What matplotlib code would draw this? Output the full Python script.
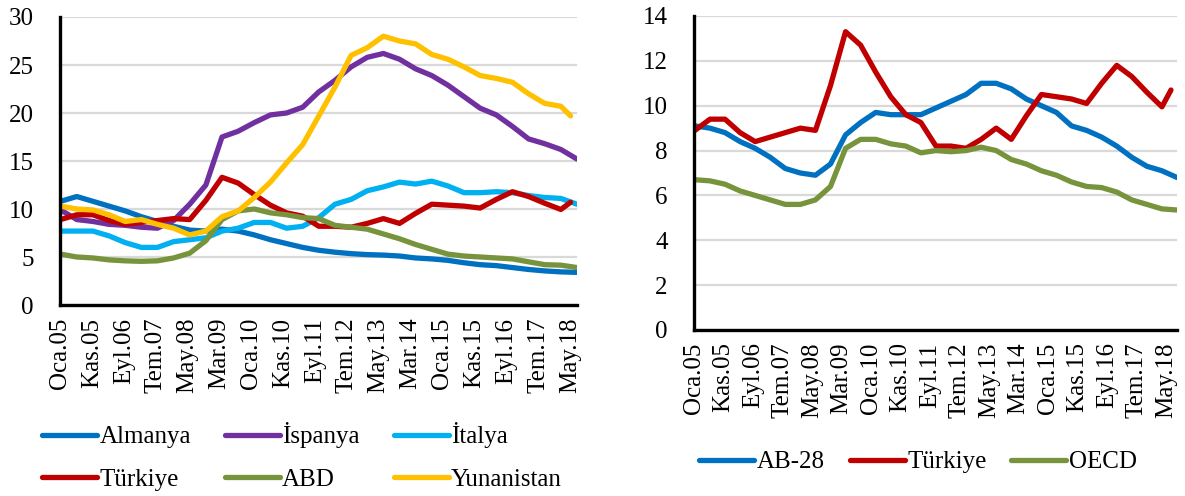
import matplotlib
matplotlib.use('Agg')
import matplotlib.pyplot as plt
import numpy as np

plt.rcParams['font.family'] = ['Liberation Serif', 'DejaVu Serif']

# months counted from Oca.05 (0) to May.18 (160), read every 5 months
months = list(range(0, 161, 5))
months_end158 = list(range(0, 156, 5)) + [158]   # Türkiye / Yunanistan stop at Mar.18

tick_labels = ['Oca.05', 'Kas.05', 'Eyl.06', 'Tem.07', 'May.08', 'Mar.09',
               'Oca.10', 'Kas.10', 'Eyl.11', 'Tem.12', 'May.13', 'Mar.14',
               'Oca.15', 'Kas.15', 'Eyl.16', 'Tem.17', 'May.18']

almanya = [10.8, 11.3, 10.8, 10.3, 9.8, 9.2, 8.7, 8.2, 7.8, 7.7, 7.9, 7.7, 7.3,
           6.8, 6.4, 6.0, 5.7, 5.5, 5.35, 5.25, 5.2, 5.1, 4.9, 4.8, 4.65, 4.4,
           4.2, 4.1, 3.9, 3.7, 3.55, 3.45, 3.4]
ispanya = [9.9, 8.9, 8.7, 8.4, 8.3, 8.1, 8.0, 8.8, 10.5, 12.5, 17.5, 18.1, 19.0,
           19.8, 20.0, 20.6, 22.2, 23.4, 24.8, 25.8, 26.2, 25.6, 24.6, 23.9,
           22.9, 21.7, 20.5, 19.8, 18.6, 17.3, 16.8, 16.2, 15.2]
italya = [7.7, 7.7, 7.7, 7.2, 6.5, 6.0, 6.0, 6.6, 6.8, 7.0, 7.7, 8.0, 8.6, 8.6,
          8.0, 8.2, 9.1, 10.5, 11.0, 11.9, 12.3, 12.8, 12.6, 12.9, 12.4, 11.7,
          11.7, 11.8, 11.7, 11.4, 11.2, 11.1, 10.5]
turkiye = [8.9, 9.4, 9.4, 8.8, 8.4, 8.6, 8.8, 9.0, 8.9, 10.9, 13.3, 12.7, 11.5,
           10.4, 9.6, 9.25, 8.2, 8.2, 8.1, 8.5, 9.0, 8.5, 9.55, 10.5, 10.4,
           10.3, 10.1, 11.0, 11.8, 11.3, 10.6, 9.95, 10.7]
abd = [5.3, 5.0, 4.9, 4.7, 4.6, 4.55, 4.6, 4.9, 5.4, 6.7, 8.9, 9.8, 10.0, 9.6,
       9.4, 9.1, 9.0, 8.3, 8.1, 7.9, 7.4, 6.9, 6.3, 5.8, 5.3, 5.1, 5.0, 4.9,
       4.8, 4.5, 4.2, 4.15, 3.9]
yunanistan = [10.3, 10.0, 9.9, 9.4, 8.7, 8.9, 8.4, 8.0, 7.3, 7.7, 9.2, 9.8,
              11.2, 12.8, 14.8, 16.7, 19.7, 22.7, 26.0, 26.8, 28.0, 27.5, 27.2,
              26.1, 25.6, 24.8, 23.9, 23.6, 23.2, 22.0, 21.0, 20.7, 19.7]

ab28 = [9.1, 9.0, 8.8, 8.4, 8.1, 7.7, 7.2, 7.0, 6.9, 7.4, 8.7, 9.25, 9.7, 9.6,
        9.6, 9.6, 9.9, 10.2, 10.5, 11.0, 11.0, 10.75, 10.3, 10.0, 9.7, 9.1,
        8.9, 8.6, 8.2, 7.7, 7.3, 7.1, 6.8]
oecd = [6.7, 6.65, 6.5, 6.2, 6.0, 5.8, 5.6, 5.6, 5.8, 6.4, 8.1, 8.5, 8.5, 8.3,
        8.2, 7.9, 8.0, 7.95, 8.0, 8.15, 8.0, 7.6, 7.4, 7.1, 6.9, 6.6, 6.4,
        6.35, 6.15, 5.8, 5.6, 5.4, 5.35]

c_blue = '#0070C0'
c_purple = '#7030A0'
c_light = '#00B0F0'
c_red = '#C00000'
c_green = '#77933C'
c_yellow = '#FFC000'

FS = 18
lw = 3.8

fig = plt.figure(figsize=(11.85, 4.96), dpi=100)
ax1 = fig.add_axes([60/1185, 191/496, 517/1185, 288/496])
ax2 = fig.add_axes([694/1185, 166/496, 483/1185, 314/496])


def style(ax, ymax, ystep, lab_first, lab_last):
    ax.set_xlim(0, 160)
    ax.set_ylim(0, ymax)
    ax.set_yticks(range(0, ymax + 1, ystep))
    # category labels sit slightly tighter than the data span (Excel look)
    ax.set_xticks(np.linspace(lab_first, lab_last, len(tick_labels)))
    ax.set_xticklabels(tick_labels, rotation=90, ha='center', va='top')
    ax.tick_params(axis='both', length=0, labelsize=FS)
    ax.tick_params(axis='y', pad=19)
    ax.tick_params(axis='x', pad=9)
    ax.grid(axis='y', color='#D9D9D9', lw=1.6)
    ax.set_axisbelow(True)
    for s in ['top', 'right']:
        ax.spines[s].set_visible(False)
    for s in ['left', 'bottom']:
        ax.spines[s].set_linewidth(2.4)
        ax.spines[s].set_color('black')
        ax.spines[s].set_zorder(5)


kw = dict(lw=lw, solid_capstyle='round', solid_joinstyle='round')

# ---- left panel ----
l_de, = ax1.plot(months, almanya, color=c_blue, label='Almanya', **kw)
l_es, = ax1.plot(months, ispanya, color=c_purple, label='İspanya', **kw)
l_it, = ax1.plot(months, italya, color=c_light, label='İtalya', **kw)
l_tr, = ax1.plot(months_end158, turkiye, color=c_red, label='Türkiye', **kw)
l_us, = ax1.plot(months, abd, color=c_green, label='ABD', **kw)
l_gr, = ax1.plot(months_end158, yunanistan, color=c_yellow, label='Yunanistan', **kw)
style(ax1, 30, 5, -0.2, 157.8)

handles = [l_de, l_tr, l_es, l_us, l_it, l_gr]
fig.legend(handles, [h.get_label() for h in handles], ncol=3, frameon=False,
           loc='center left', bbox_to_anchor=(42/1185, 39.5/496),
           fontsize=FS, handlelength=2.2, handletextpad=0.1,
           columnspacing=1.35, labelspacing=0.8, borderpad=0, borderaxespad=0)

# ---- right panel ----
r_eu, = ax2.plot(months, ab28, color=c_blue, label='AB-28', **kw)
r_tr, = ax2.plot(months_end158, turkiye, color=c_red, label='Türkiye', **kw)
r_oe, = ax2.plot(months, oecd, color=c_green, label='OECD', **kw)
style(ax2, 14, 2, -0.3, 156.4)

fig.legend([r_eu, r_tr, r_oe], ['AB-28', 'Türkiye', 'OECD'], ncol=3,
           frameon=False, loc='center left', bbox_to_anchor=(699/1185, 34/496),
           fontsize=FS, handlelength=2.2, handletextpad=0.1,
           columnspacing=1.0, borderpad=0, borderaxespad=0)

fig.savefig('out.png', dpi=100)
plt.close(fig)
